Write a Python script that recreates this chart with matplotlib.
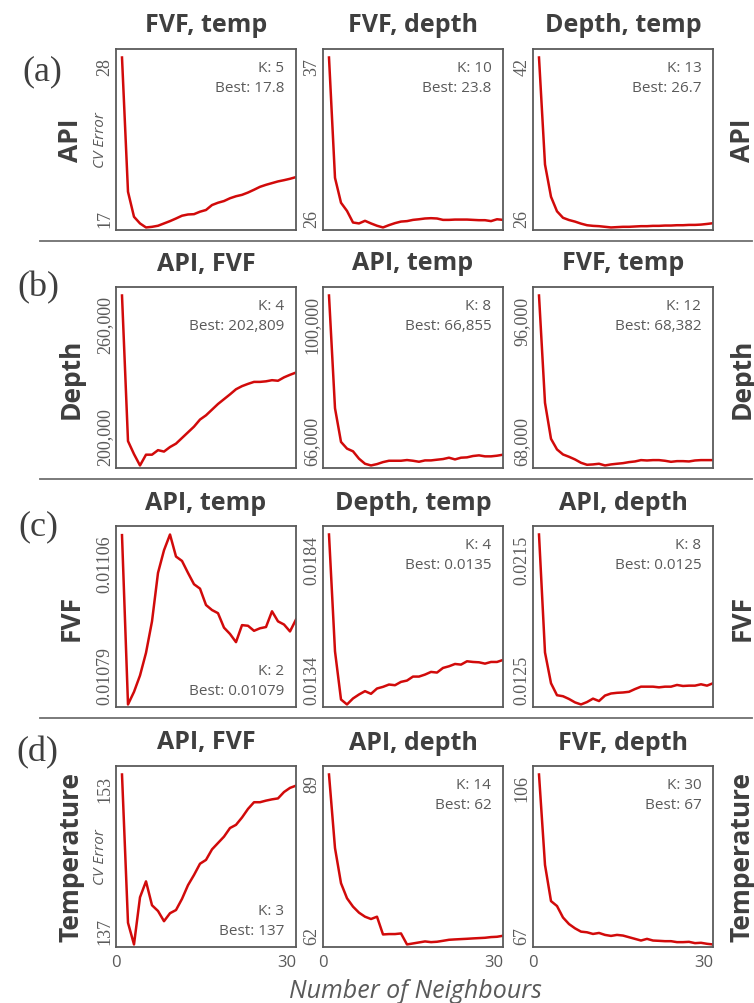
import matplotlib
matplotlib.use("Agg")
import matplotlib.pyplot as plt
from matplotlib.lines import Line2D

# ---------------- data ----------------
k_values = list(range(1, 31))

row_targets = ["API", "Depth", "FVF", "Temperature"]
panel_tags = ["(a)", "(b)", "(c)", "(d)"]
titles = [["FVF, temp", "FVF, depth", "Depth, temp"],
          ["API, FVF", "API, temp", "FVF, temp"],
          ["API, temp", "Depth, temp", "API, depth"],
          ["API, FVF", "API, depth", "FVF, depth"]]
best_k = [[5, 10, 13], [4, 8, 12], [2, 4, 8], [3, 14, 30]]
best_text = [["17.8", "23.8", "26.7"],
             ["202,809", "66,855", "68,382"],
             ["0.01079", "0.0135", "0.0125"],
             ["137", "62", "67"]]
ytick_low = [[17, 26, 26], [200000, 66000, 68000], [0.01079, 0.0134, 0.0125], [137, 62, 67]]
ytick_high = [[28, 37, 42], [260000, 100000, 96000], [0.01106, 0.0184, 0.0215], [153, 89, 106]]
ytick_low_labels = [["17", "26", "26"], ["200,000", "66,000", "68,000"],
                    ["0.01079", "0.0134", "0.0125"], ["137", "62", "67"]]
ytick_high_labels = [["28", "37", "42"], ["260,000", "100,000", "96,000"],
                     ["0.01106", "0.0184", "0.0215"], ["153", "89", "106"]]

api_fvf_temp = [28.00, 19.31, 17.69, 17.26, 17.00, 17.04, 17.11, 17.26, 17.41, 17.58,
                17.76, 17.84, 17.86, 18.02, 18.13, 18.45, 18.60, 18.71, 18.89, 19.02,
                19.11, 19.26, 19.44, 19.63, 19.76, 19.87, 19.98, 20.06, 20.15, 20.26]
api_fvf_depth = [37.00, 29.21, 27.60, 27.07, 26.32, 26.26, 26.43, 26.26, 26.11, 26.00,
                 26.15, 26.28, 26.38, 26.41, 26.49, 26.53, 26.58, 26.60, 26.58, 26.49,
                 26.49, 26.51, 26.51, 26.51, 26.49, 26.47, 26.47, 26.41, 26.53, 26.49]
api_depth_temp = [42.00, 31.93, 28.89, 27.52, 26.91, 26.70, 26.55, 26.36, 26.21, 26.15,
                  26.12, 26.06, 26.00, 26.03, 26.06, 26.06, 26.09, 26.12, 26.12, 26.15,
                  26.15, 26.18, 26.18, 26.21, 26.21, 26.24, 26.24, 26.27, 26.33, 26.40]

depth_api_fvf = [260000, 208600, 204000, 200000, 203800, 203800, 205400, 204900, 206500, 207700,
                 209700, 211700, 213700, 216200, 217700, 219700, 221700, 223400, 225100, 226900,
                 228000, 228800, 229500, 229500, 229700, 230100, 229900, 231100, 232000, 232800]
depth_api_temp = [100000, 77450, 70710, 69370, 68830, 67350, 66340, 66000, 66270, 66670,
                  66940, 66940, 66940, 67080, 66940, 66740, 67010, 67010, 67150, 67280,
                  67550, 67210, 67550, 67620, 67890, 68020, 67820, 67820, 67950, 68150]
depth_fvf_temp = [96000, 78320, 72390, 70640, 69810, 69430, 68990, 68440, 68110, 68170,
                  68280, 68000, 68170, 68280, 68380, 68550, 68660, 68880, 68820, 68880,
                  68880, 68770, 68600, 68710, 68710, 68660, 68820, 68880, 68880, 68880]

fvf_api_temp = [0.011059, 0.010790, 0.010810, 0.010836, 0.010872, 0.010922, 0.010999, 0.011035,
                0.011060, 0.011025, 0.011018, 0.010999, 0.010981, 0.010974, 0.010948, 0.010940,
                0.010935, 0.010912, 0.010902, 0.010889, 0.010916, 0.010915, 0.010907, 0.010911,
                0.010913, 0.010938, 0.010922, 0.010917, 0.010906, 0.010925]
fvf_depth_temp = [0.018400, 0.014963, 0.013546, 0.013400, 0.013576, 0.013693, 0.013791, 0.013713,
                  0.013869, 0.013918, 0.013986, 0.013966, 0.014064, 0.014103, 0.014220, 0.014220,
                  0.014279, 0.014357, 0.014338, 0.014474, 0.014523, 0.014591, 0.014572, 0.014670,
                  0.014650, 0.014640, 0.014601, 0.014650, 0.014650, 0.014709]
fvf_api_depth = [0.021500, 0.015253, 0.013623, 0.012989, 0.012935, 0.012790, 0.012609, 0.012500,
                 0.012627, 0.012808, 0.012681, 0.012971, 0.013080, 0.013116, 0.013134, 0.013170,
                 0.013315, 0.013442, 0.013442, 0.013442, 0.013406, 0.013442, 0.013442, 0.013532,
                 0.013478, 0.013496, 0.013496, 0.013568, 0.013496, 0.013623]

temp_api_fvf = [153.00, 139.04, 137.00, 141.44, 142.94, 140.69, 140.15, 139.19, 139.94, 140.24,
                141.29, 142.58, 143.54, 144.60, 144.96, 145.95, 146.55, 147.15, 147.96, 148.26,
                148.95, 149.76, 150.39, 150.39, 150.54, 150.66, 150.75, 151.35, 151.74, 151.95]
temp_api_depth = [89.00, 77.31, 71.73, 69.34, 68.01, 67.05, 66.41, 66.04, 66.41, 63.59,
                  63.65, 63.65, 63.75, 62.00, 62.16, 62.32, 62.48, 62.37, 62.43, 62.58,
                  62.74, 62.80, 62.85, 62.90, 62.96, 63.01, 63.06, 63.17, 63.22, 63.38]
temp_fvf_depth = [106.00, 85.25, 76.95, 75.82, 73.18, 71.68, 70.70, 69.94, 69.79, 69.41,
                  69.64, 69.19, 68.96, 69.19, 69.04, 68.66, 68.28, 67.90, 68.28, 67.90,
                  67.83, 67.75, 67.75, 67.53, 67.53, 67.60, 67.30, 67.38, 67.15, 67.00]

series = [[api_fvf_temp, api_fvf_depth, api_depth_temp],
          [depth_api_fvf, depth_api_temp, depth_fvf_temp],
          [fvf_api_temp, fvf_depth_temp, fvf_api_depth],
          [temp_api_fvf, temp_api_depth, temp_fvf_depth]]
annot_bottom = [[False, False, False], [False, False, False],
                [True, False, False], [True, False, False]]

# ---------------- layout ----------------
W, H = 754, 1004
fig = plt.figure(figsize=(W / 100, H / 100), dpi=100)
fig.patch.set_facecolor("white")

col_left = [116, 323, 533]
row_top = [50, 288, 527, 767]
ax_w, ax_h = 180, 181

SANS = "Open Sans"
SERIF = "Liberation Serif"
DARK = "#3f3f3f"
GREY = "#5a5a5a"
RED = "#d10a0a"

for r in range(4):
    for c in range(3):
        x0, y0 = col_left[c], row_top[r]
        ax = fig.add_axes([x0 / W, 1 - (y0 + ax_h) / H, ax_w / W, ax_h / H])
        ys = series[r][c]
        lo, hi = ytick_low[r][c], ytick_high[r][c]
        rng = hi - lo
        ax.plot(k_values, ys, color=RED, lw=1.8, solid_joinstyle="round")
        ax.set_xlim(0, 30)
        ax.set_ylim(lo - 0.015 * rng, hi + 0.05 * rng)
        for sp in ax.spines.values():
            sp.set_color(GREY)
            sp.set_linewidth(1.3)
        ax.set_yticks([lo, hi])
        ax.set_yticklabels([ytick_low_labels[r][c], ytick_high_labels[r][c]],
                           rotation=90, ha="right",
                           fontfamily=SERIF, fontsize=13, color=GREY)
        lbls = ax.get_yticklabels()
        lbls[0].set_va("bottom")
        lbls[1].set_va("top")
        ax.tick_params(axis="y", length=0, pad=2)
        if r == 3:
            ax.set_xticks([0, 30])
            ax.set_xticklabels(["0", "30"], fontfamily=SANS, fontsize=12, color=GREY)
            ax.get_xticklabels()[1].set_ha("right")
            ax.tick_params(axis="x", length=0, pad=5)
        else:
            ax.set_xticks([])
        # title
        fig.text((x0 + ax_w / 2) / W, 1 - (y0 - 24) / H, titles[r][c],
                 ha="center", va="center", fontfamily=SANS, fontweight="bold",
                 fontsize=18, color=DARK)
        # annotation
        if annot_bottom[r][c]:
            ya, yb = 0.20, 0.09
        else:
            ya, yb = 0.90, 0.79
        ax.text(0.935, ya, f"K: {best_k[r][c]}", transform=ax.transAxes,
                ha="right", va="center", fontfamily=SANS, fontsize=11, color=GREY)
        ax.text(0.935, yb, f"Best: {best_text[r][c]}", transform=ax.transAxes,
                ha="right", va="center", fontfamily=SANS, fontsize=11, color=GREY)

    yc = 1 - (row_top[r] + ax_h / 2) / H
    fig.text(71 / W, yc, row_targets[r], rotation=90, ha="center", va="center",
             fontfamily=SANS, fontweight="bold", fontsize=19, color=DARK)
    fig.text(742 / W, yc, row_targets[r], rotation=90, ha="center", va="center",
             fontfamily=SANS, fontweight="bold", fontsize=19, color=DARK)

# panel tags
tag_pos = [(42, 72), (38, 288), (38, 527), (37, 753)]
for tag, (tx, ty) in zip(panel_tags, tag_pos):
    fig.text(tx / W, 1 - ty / H, tag, ha="center", va="center",
             fontfamily=SERIF, fontsize=26, color=DARK)

# CV Error labels
for r in (0, 3):
    yc = 1 - (row_top[r] + ax_h / 2) / H
    fig.text(100 / W, yc, "CV Error", rotation=90, ha="center", va="center",
             fontfamily=SANS, fontstyle="italic", fontsize=11, color=GREY)

# separators
for sy in (242, 480, 719):
    fig.add_artist(Line2D([40 / W, 752 / W], [1 - sy / H, 1 - sy / H],
                          color="#6f6f6f", lw=1.3, transform=fig.transFigure))

fig.text(415 / W, 1 - 992 / H, "Number of Neighbours", ha="center", va="center",
         fontfamily=SANS, fontstyle="italic", fontsize=18, color=GREY)

fig.savefig("out.png", dpi=100)
